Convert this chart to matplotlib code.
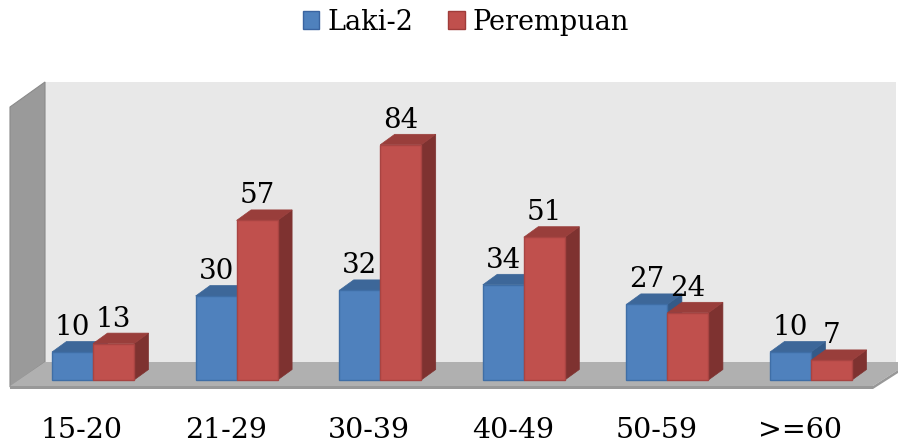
import matplotlib
matplotlib.use("Agg")
import matplotlib.pyplot as plt
from matplotlib.patches import Polygon, Patch

categories = ["15-20", "21-29", "30-39", "40-49", "50-59", ">=60"]
laki = [10, 30, 32, 34, 27, 10]
perempuan = [13, 57, 84, 51, 24, 7]
series_names = ["Laki-2", "Perempuan"]

plt.rcParams['font.family'] = ['DejaVu Serif']

W_PX, H_PX = 898, 443
OX, OY = 93.0, 380.0        # pixel of (x=0, y=0)
SX, SY = 143.6, 2.8         # pixels per data unit

def px(xp, yp):
    return ((xp - OX) / SX, (OY - yp) / SY)

fig = plt.figure(figsize=(W_PX / 100, H_PX / 100), dpi=100)
ax = fig.add_axes([0, 0, 1, 1])
ax.set_xlim(-OX / SX, (W_PX - OX) / SX)
ax.set_ylim((OY - H_PX) / SY, OY / SY)
ax.axis('off')

# --- 3D frame (walls and floor) ---
back = Polygon([px(45, 82), px(896, 82), px(896, 362), px(45, 362)],
               closed=True, facecolor='#e8e8e8', edgecolor='none', zorder=1)
side = Polygon([px(10, 107), px(45, 82), px(45, 362), px(10, 387)],
               closed=True, facecolor='#9a9a9a', edgecolor='#8a8a8a', lw=0.8, zorder=1)
floor = Polygon([px(10, 386), px(45, 362), px(898, 362), px(898, 370), px(873, 386)],
                closed=True, facecolor='#b0b0b0', edgecolor='none', zorder=1)
floor_front = Polygon([px(10, 386), px(873, 386), px(873, 389), px(10, 389)],
                      closed=True, facecolor='#989898', edgecolor='none', zorder=1)
floor_right = Polygon([px(873, 386), px(898, 370), px(898, 373), px(873, 389)],
                      closed=True, facecolor='#989898', edgecolor='none', zorder=1)
for p in (back, side, floor, floor_front, floor_right):
    ax.add_patch(p)

# --- bars ---
w = 41 / SX
dx = 14.5 / SX
dy = 10.5 / SY

styles = [
    dict(front='#4f81bd', top='#3d6799', side='#335a88', edge='#3f6ea6'),
    dict(front='#c0504d', top='#993e3b', side='#7e3230', edge='#a84442'),
]

z = 3
for i, cat in enumerate(categories):
    for s, vals in enumerate((laki, perempuan)):
        v = vals[i]
        st = styles[s]
        x0 = i - w if s == 0 else i
        x1 = x0 + w
        ax.add_patch(Polygon([(x1, 0), (x1 + dx, dy), (x1 + dx, v + dy), (x1, v)],
                             closed=True, facecolor=st['side'], edgecolor=st['side'],
                             lw=0.5, zorder=z))
        ax.add_patch(Polygon([(x0, v), (x1, v), (x1 + dx, v + dy), (x0 + dx, v + dy)],
                             closed=True, facecolor=st['top'], edgecolor=st['top'],
                             lw=0.5, zorder=z))
        z += 1
    ax.bar(i - w, laki[i], width=w, align='edge', bottom=0,
           color=styles[0]['front'], edgecolor=styles[0]['edge'], lw=1.0, zorder=z - 1.5)
    ax.bar(i, perempuan[i], width=w, align='edge', bottom=0,
           color=styles[1]['front'], edgecolor=styles[1]['edge'], lw=1.0, zorder=z + 0.5)
    z += 2

# --- value labels ---
for i in range(len(categories)):
    ax.text(i - w / 2, laki[i] + dy + 2.3, str(laki[i]), ha='center', va='baseline',
            fontsize=20, color='black', zorder=50)
    ax.text(i + w / 2, perempuan[i] + dy + 2.3, str(perempuan[i]), ha='center', va='baseline',
            fontsize=20, color='black', zorder=50)

# --- category labels ---
for i, cat in enumerate(categories):
    ax.text(i - 11 / SX, (OY - 438) / SY, cat, ha='center', va='baseline',
            fontsize=20.5, color='black', zorder=50)

# --- legend ---
handles = [Patch(facecolor=styles[0]['front'], edgecolor='#3a64a0'),
           Patch(facecolor=styles[1]['front'], edgecolor='#a03c3a')]
fig.legend(handles, series_names, loc='center', bbox_to_anchor=(0.519, 1 - 22 / H_PX),
           ncol=2, frameon=False, fontsize=19.5, handlelength=0.6, handleheight=0.6,
           handletextpad=0.3, columnspacing=1.3)

fig.savefig('out.png', dpi=100)
